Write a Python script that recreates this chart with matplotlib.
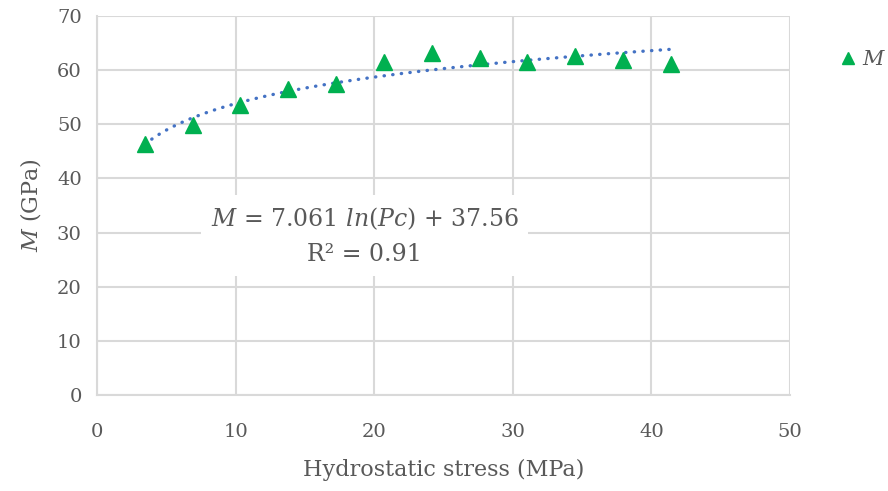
import numpy as np
import matplotlib.pyplot as plt

plt.rcParams['font.family'] = ['DejaVu Serif']
plt.rcParams['mathtext.fontset'] = 'custom'
plt.rcParams['mathtext.rm'] = 'DejaVu Serif'
plt.rcParams['mathtext.it'] = 'DejaVu Serif:italic'

# data
pc = [3.45, 6.9, 10.35, 13.8, 17.25, 20.7, 24.15, 27.6, 31.05, 34.5, 37.95, 41.4]
modulus = [46.4, 49.8, 53.5, 56.6, 57.5, 61.5, 63.1, 62.2, 61.5, 62.7, 61.9, 61.1]
fit_a, fit_b = 7.061, 37.56   # M = a ln(Pc) + b

text_col = '#595959'
grid_col = '#d9d9d9'

fig = plt.figure(figsize=(8.88, 4.91), dpi=100)
ax = fig.add_axes([0.1092, 0.1955, 0.7804, 0.7719])

xs = np.linspace(min(pc), max(pc), 200)
ax.plot(xs, fit_a * np.log(xs) + fit_b, color='#4472c4', lw=2.4,
        linestyle=(0, (0.1, 2.5)), dash_capstyle='round', zorder=2)
ax.plot(pc, modulus, linestyle='none', marker='^', ms=11, color='#00b050',
        mec='#00b050', label='$M$', zorder=3)

ax.set_xlim(0, 50)
ax.set_ylim(0, 70)
ax.set_xticks(range(0, 51, 10))
ax.set_yticks(range(0, 71, 10))
ax.grid(True, color=grid_col, lw=1.5)
ax.set_axisbelow(True)
for s in ['top', 'right']:
    ax.spines[s].set_visible(False)
for s in ['left', 'bottom']:
    ax.spines[s].set_color(grid_col)
    ax.spines[s].set_linewidth(1.5)
ax.tick_params(length=0, labelsize=14, labelcolor=text_col)
ax.tick_params(axis='x', pad=20)
ax.tick_params(axis='y', pad=11)

ax.set_xlabel('Hydrostatic stress (MPa)', fontsize=16, color=text_col, labelpad=13)
ax.set_ylabel('$M$ (GPa)', fontsize=16, color=text_col, labelpad=10)

ax.text(19.3, 29.4, '$M$ = 7.061 $ln$($Pc$) + 37.56\nR\u00b2 = 0.91', fontsize=17,
        color=text_col, ha='center', va='center', linespacing=1.65,
        bbox=dict(facecolor='white', edgecolor='none', pad=7), zorder=4)

ax.legend(loc='center left', bbox_to_anchor=(1.071, 0.885), frameon=False,
          fontsize=15, handlelength=0.8, handletextpad=0.3, borderpad=0,
          borderaxespad=0, labelcolor=text_col, markerscale=0.75)

fig.savefig('out.png', dpi=100)
